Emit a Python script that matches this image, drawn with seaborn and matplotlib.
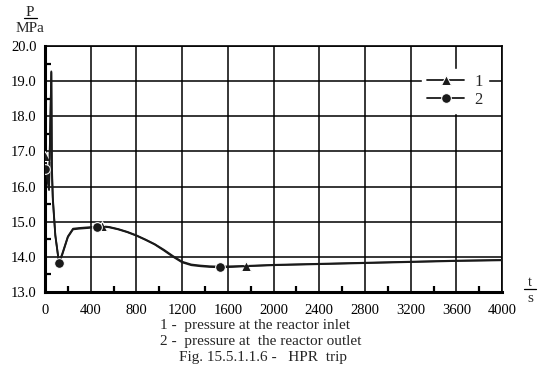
import numpy as np
import pandas as pd
import matplotlib
matplotlib.use("Agg")
import matplotlib.pyplot as plt
import seaborn as sns
from matplotlib.lines import Line2D
from matplotlib.ticker import MultipleLocator

# time, s
time_s = [0, 15, 35, 55, 60, 68, 90, 122, 150, 200, 245, 300, 380, 457, 497,
          560, 640, 720, 800, 880, 960, 1040, 1120, 1200, 1280, 1360, 1440,
          1532, 1640, 1760, 2000, 2400, 2800, 3200, 3600, 4000]
# 1 - pressure at the reactor inlet, MPa
p_inlet = [16.88, 16.5, 16.0, 19.25, 16.6, 15.7, 14.62, 13.84, 14.08, 14.58,
           14.80, 14.82, 14.84, 14.86, 14.87, 14.85, 14.79, 14.71, 14.61, 14.49,
           14.36, 14.20, 14.02, 13.86, 13.78, 13.75, 13.73, 13.72, 13.73, 13.74,
           13.77, 13.80, 13.83, 13.86, 13.89, 13.91]
# 2 - pressure at the reactor outlet, MPa
p_outlet = [16.51, 16.3, 15.9, 19.28, 16.4, 15.62, 14.6, 13.82, 14.05, 14.56,
            14.78, 14.80, 14.82, 14.85, 14.86, 14.84, 14.78, 14.70, 14.60, 14.48,
            14.35, 14.18, 14.00, 13.84, 13.76, 13.73, 13.71, 13.70, 13.71, 13.73,
            13.76, 13.79, 13.82, 13.85, 13.88, 13.90]
# times where the markers sit
marks_inlet = [0, 497, 1760]
marks_outlet = [0, 122, 457, 1532]

df = pd.DataFrame({"t": time_s, "p1": p_inlet, "p2": p_outlet})

sns.set_style("white")
plt.rcParams["font.family"] = ["Liberation Serif", "DejaVu Serif"]

fig = plt.figure(figsize=(5.56, 3.69), dpi=100)
ax = fig.add_axes([0.081, 0.209, 0.822, 0.666])

idx1 = [time_s.index(v) for v in marks_inlet]
idx2 = [time_s.index(v) for v in marks_outlet]
sns.lineplot(data=df, x="t", y="p1", ax=ax, color="#1a1a1a", lw=1.3,
             marker="^", markersize=7, markevery=idx1, sort=False,
             estimator=None, label="1", zorder=3)
sns.lineplot(data=df, x="t", y="p2", ax=ax, color="#1a1a1a", lw=1.3,
             marker="o", markersize=7, markevery=idx2, sort=False,
             estimator=None, label="2", zorder=3)

ax.set_xlim(0, 4000)
ax.set_ylim(13, 20)
ax.xaxis.set_major_locator(MultipleLocator(400))
ax.xaxis.set_minor_locator(MultipleLocator(200))
ax.yaxis.set_major_locator(MultipleLocator(1))
ax.yaxis.set_minor_locator(MultipleLocator(0.5))
ax.yaxis.set_major_formatter(lambda v, p: f"{v:.1f}")
ax.grid(True, which="major", color="black", lw=1.1)
ax.tick_params(which="both", direction="in", top=False, right=False,
               labelsize=10.5, colors="black", width=1.6)
ax.tick_params(which="major", length=6)
ax.tick_params(which="minor", length=4, bottom=True, left=True)
ax.tick_params(axis="x", which="major", pad=9)
ax.tick_params(axis="y", which="major", pad=6)
for s in ax.spines.values():
    s.set_color("black")
    s.set_linewidth(1.2)
ax.spines["left"].set_linewidth(2.2)
ax.spines["bottom"].set_linewidth(2.2)
ax.set_xlabel("")
ax.set_ylabel("")

leg = ax.legend(loc="center", bbox_to_anchor=(0.897, 0.817), frameon=True,
                fontsize=12, handlelength=2.2, handletextpad=0.6,
                borderpad=0.3, labelspacing=0.1)
leg.get_frame().set_facecolor("white")
leg.get_frame().set_edgecolor("white")
leg.get_frame().set_alpha(1)

# axis units, written as in the source figure
fig.text(30 / 556, 1 - 12 / 369, "P", ha="center", va="center", fontsize=11)
fig.add_artist(Line2D([24 / 556, 37 / 556], [1 - 18 / 369, 1 - 18 / 369],
                      color="black", lw=0.9))
fig.text(30 / 556, 1 - 28 / 369, "MPa", ha="center", va="center", fontsize=11)
fig.text(530 / 556, 1 - 282 / 369, "t", ha="center", va="center", fontsize=10)
fig.add_artist(Line2D([524 / 556, 536 / 556], [1 - 289 / 369, 1 - 289 / 369],
                      color="black", lw=0.9))
fig.text(530 / 556, 1 - 298 / 369, "s", ha="center", va="center", fontsize=11)

fig.text(160 / 556, 1 - 326 / 369, "1 -  pressure at the reactor inlet",
         ha="left", va="center", fontsize=11)
fig.text(160 / 556, 1 - 341 / 369, "2 -  pressure at  the reactor outlet",
         ha="left", va="center", fontsize=11)
fig.text(263 / 556, 1 - 357 / 369, "Fig. 15.5.1.1.6 -   HPR  trip",
         ha="center", va="center", fontsize=11)

fig.savefig("out.png", dpi=100)
